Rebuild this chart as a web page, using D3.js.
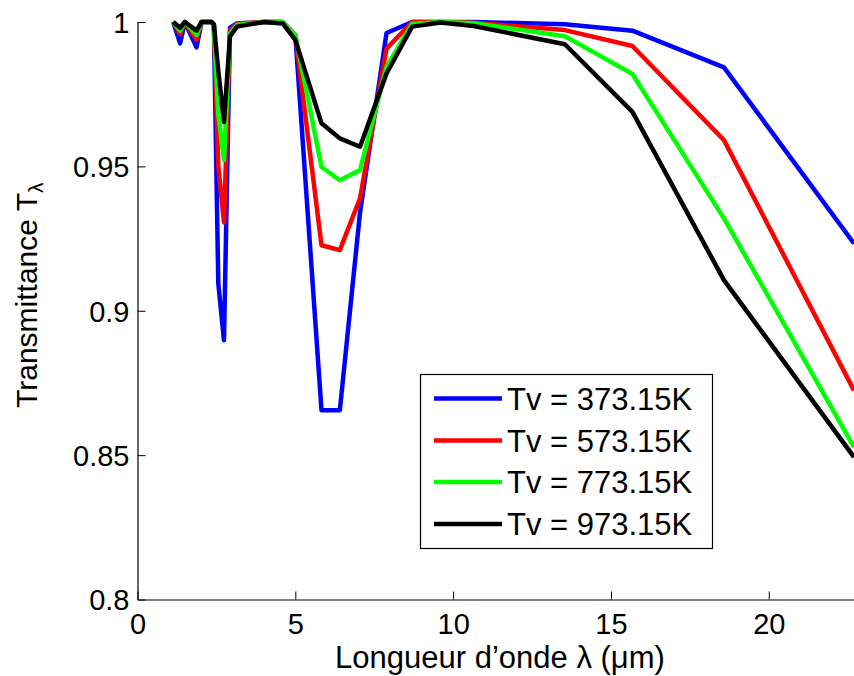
<!DOCTYPE html>
<html>
<head>
<meta charset="utf-8">
<script src="https://cdn.jsdelivr.net/npm/d3@7"></script>
<style>
  html, body { margin: 0; padding: 0; background: #fff; }
  svg { display: block; }
  text { font-family: "Liberation Sans", Arial, Helvetica, sans-serif; fill: #000; }
</style>
</head>
<body>
<svg id="chart" width="854" height="676"></svg>
<script>
// Wavelength grid (µm)
const wavelengths = [1.13, 1.35, 1.5, 1.87, 2.03, 2.35, 2.42, 2.56, 2.74, 2.93, 3.15, 4.0, 4.6, 5.0, 5.83, 6.41, 7.05, 7.89, 8.7, 9.6, 10.65, 13.54, 15.68, 18.58, 22.7];

const seriesNames = ["Tv = 373.15K", "Tv = 573.15K", "Tv = 773.15K", "Tv = 973.15K"];
const seriesColors = ["#0000ff", "#ff0000", "#00ff00", "#000000"];

const t373 = [1.0, 0.9926, 1.0, 0.9912, 1.0, 1.0, 0.999, 0.9094, 0.8898, 0.998, 0.9995, 1.0, 1.0, 0.9955, 0.8655, 0.8655, 0.934, 0.9962, 1.0, 1.0, 1.0, 0.9992, 0.997, 0.9843, 0.9233];
const t573 = [1.0, 0.9958, 1.0, 0.9938, 1.0, 1.0, 0.999, 0.950, 0.9306, 0.997, 0.9995, 1.0, 1.0, 0.9955, 0.9227, 0.921, 0.9389, 0.9908, 1.0, 1.0, 0.9997, 0.9972, 0.9917, 0.9591, 0.8724];
const t773 = [1.0, 0.997, 1.0, 0.9955, 1.0, 1.0, 0.9985, 0.968, 0.9522, 0.996, 0.999, 1.0, 1.0, 0.9955, 0.9498, 0.9452, 0.9487, 0.9845, 0.9993, 1.0, 0.9996, 0.9951, 0.982, 0.932, 0.8528];
const t973 = [1.0, 0.998, 1.0, 0.997, 1.0, 1.0, 0.9992, 0.983, 0.9654, 0.995, 0.9984, 1.0, 0.9995, 0.9938, 0.9649, 0.9597, 0.9568, 0.9822, 0.9984, 0.9998, 0.9986, 0.9923, 0.9689, 0.9106, 0.8493];

const xTicks = [0, 5, 10, 15, 20];
const yTicks = [0.8, 0.85, 0.9, 0.95, 1];
const yTickLabels = ["0.8", "0.85", "0.9", "0.95", "1"];

const allSeries = [t373, t573, t773, t973];

const svg = d3.select("#chart");
const mLeft = 137.5, mRight = 854, mTop = 22, mBottom = 599.5;

const x = d3.scaleLinear().domain([0, 22.7]).range([mLeft, mRight]);
const y = d3.scaleLinear().domain([0.8, 1]).range([mBottom, mTop]);

svg.append("defs").append("clipPath").attr("id", "clip")
  .append("rect").attr("x", mLeft).attr("y", mTop - 5).attr("width", mRight - mLeft + 5).attr("height", mBottom - mTop + 5);

// Axes (ticks inward, MATLAB style)
const xAxis = d3.axisBottom(x).tickValues(xTicks).tickSizeInner(-8).tickSizeOuter(0).tickPadding(10).tickFormat(d3.format("d"));
const yAxis = d3.axisLeft(y).tickValues(yTicks).tickSizeInner(-8).tickSizeOuter(0).tickPadding(8)
  .tickFormat((d, i) => yTickLabels[i]);

const gx = svg.append("g").attr("transform", `translate(0,${mBottom})`).call(xAxis);
const gy = svg.append("g").attr("transform", `translate(${mLeft},0)`).call(yAxis);
[gx, gy].forEach(g => {
  g.select(".domain").attr("stroke", "#000").attr("stroke-width", 1.2);
  g.selectAll(".tick line").attr("stroke", "#000").attr("stroke-width", 1);
  g.selectAll(".tick text").style("font-size", "29px").attr("fill", "#000");
});
gx.selectAll(".tick text").attr("dy", "0.85em");
gy.selectAll(".tick text").attr("dy", "0.36em");

// Lines
const line = d3.line().x((d, i) => x(wavelengths[i])).y(d => y(d));
const plot = svg.append("g").attr("clip-path", "url(#clip)");
allSeries.forEach((s, k) => {
  plot.append("path")
    .datum(s)
    .attr("d", line)
    .attr("fill", "none")
    .attr("stroke", seriesColors[k])
    .attr("stroke-width", 4.5)
    .attr("stroke-linejoin", "round")
    .attr("stroke-linecap", "butt");
});

// Axis labels
svg.append("text")
  .attr("x", 500).attr("y", 668)
  .attr("text-anchor", "middle")
  .style("font-size", "31px")
  .text("Longueur d\u2019onde \u03bb (\u03bcm)");

const yl = svg.append("text")
  .attr("transform", "translate(37,408) rotate(-90)")
  .attr("text-anchor", "start")
  .style("font-size", "30px");
yl.append("tspan").text("Transmittance T");
yl.append("tspan").attr("dy", "0.3em").style("font-size", "21px").text("\u03bb");

// Legend
const lg = svg.append("g");
lg.append("rect")
  .attr("x", 420.5).attr("y", 374.5).attr("width", 292).attr("height", 174)
  .attr("fill", "#fff").attr("stroke", "#000").attr("stroke-width", 1.2);
const rowY = [398.5, 440.5, 482, 524];
seriesNames.forEach((name, k) => {
  lg.append("line")
    .attr("x1", 434).attr("x2", 502)
    .attr("y1", rowY[k]).attr("y2", rowY[k])
    .attr("stroke", seriesColors[k]).attr("stroke-width", 4.5);
  lg.append("text")
    .attr("x", 507).attr("y", rowY[k])
    .attr("dy", "0.36em")
    .style("font-size", "31px")
    .text(name);
});
</script>
</body>
</html>
